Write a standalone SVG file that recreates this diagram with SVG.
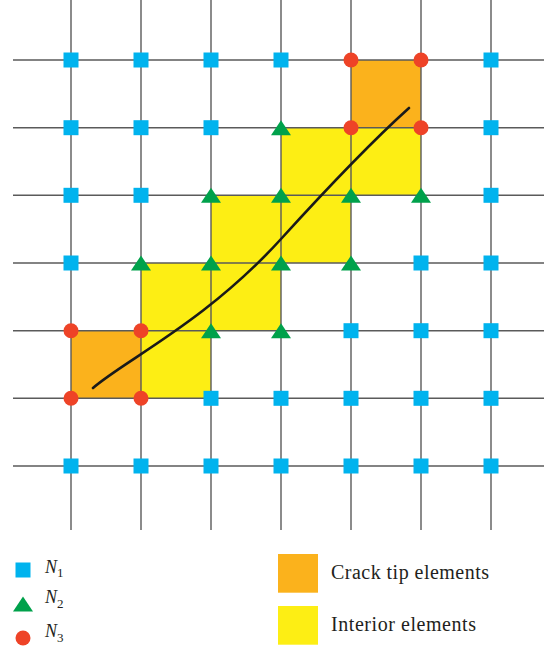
<svg xmlns="http://www.w3.org/2000/svg" width="544" height="652" viewBox="0 0 544 652">
<style>
.grid line{stroke:#5a5a5a;stroke-width:1.4}
.n1{fill:#00b3ee}
.n2{fill:#00a14b}
.n3{fill:#ee4327}
.tip{fill:#fbb21c}
.int{fill:#fdee14}
.crack{fill:none;stroke:#1a1a1a;stroke-width:2.6;stroke-linecap:round}
.lbl{font-family:"Liberation Serif","Times New Roman",serif;fill:#231f20}
.sym{font-family:"Liberation Serif","Times New Roman",serif;font-style:italic;fill:#231f20}
</style>
<defs>
<rect id="sq" x="-7.5" y="-7.5" width="15" height="15" class="n1"/>
<polygon id="tri" points="0,-7.5 10,7.5 -10,7.5" class="n2"/>
<circle id="dot" r="7.5" class="n3"/>
</defs>
<rect width="544" height="652" fill="#ffffff"/>
<g id="elements">
<rect class="tip" x="351" y="60" width="70" height="67.7"/>
<rect class="tip" x="71" y="330.7" width="70" height="67.6"/>
<rect class="int" x="281" y="127.7" width="140" height="67.6"/>
<rect class="int" x="211" y="195.3" width="140" height="67.7"/>
<rect class="int" x="141" y="263" width="140" height="67.7"/>
<rect class="int" x="141" y="330.7" width="70" height="67.6"/>
</g>
<g id="grid" class="grid">
<line x1="71" y1="0" x2="71" y2="530"/>
<line x1="141" y1="0" x2="141" y2="530"/>
<line x1="211" y1="0" x2="211" y2="530"/>
<line x1="281" y1="0" x2="281" y2="530"/>
<line x1="351" y1="0" x2="351" y2="530"/>
<line x1="421" y1="0" x2="421" y2="530"/>
<line x1="491" y1="0" x2="491" y2="530"/>
<line x1="13" y1="60" x2="544" y2="60"/>
<line x1="13" y1="127.7" x2="544" y2="127.7"/>
<line x1="13" y1="195.3" x2="544" y2="195.3"/>
<line x1="13" y1="263" x2="544" y2="263"/>
<line x1="13" y1="330.7" x2="544" y2="330.7"/>
<line x1="13" y1="398.3" x2="544" y2="398.3"/>
<line x1="13" y1="466" x2="544" y2="466"/>
</g>
<g id="crack">
<path class="crack" d="M93,388 C125,360 205,322.6 281,239 C326,189.5 369,144 409,108"/>
</g>
<g id="nodes">
<use href="#sq" x="71" y="60"/><use href="#sq" x="141" y="60"/><use href="#sq" x="211" y="60"/><use href="#sq" x="281" y="60"/><use href="#dot" x="351" y="60"/><use href="#dot" x="421" y="60"/><use href="#sq" x="491" y="60"/>
<use href="#sq" x="71" y="127.7"/><use href="#sq" x="141" y="127.7"/><use href="#sq" x="211" y="127.7"/><use href="#tri" x="281" y="127.7"/><use href="#dot" x="351" y="127.7"/><use href="#dot" x="421" y="127.7"/><use href="#sq" x="491" y="127.7"/>
<use href="#sq" x="71" y="195.3"/><use href="#sq" x="141" y="195.3"/><use href="#tri" x="211" y="195.3"/><use href="#tri" x="281" y="195.3"/><use href="#tri" x="351" y="195.3"/><use href="#tri" x="421" y="195.3"/><use href="#sq" x="491" y="195.3"/>
<use href="#sq" x="71" y="263"/><use href="#tri" x="141" y="263"/><use href="#tri" x="211" y="263"/><use href="#tri" x="281" y="263"/><use href="#tri" x="351" y="263"/><use href="#sq" x="421" y="263"/><use href="#sq" x="491" y="263"/>
<use href="#dot" x="71" y="330.7"/><use href="#dot" x="141" y="330.7"/><use href="#tri" x="211" y="330.7"/><use href="#tri" x="281" y="330.7"/><use href="#sq" x="351" y="330.7"/><use href="#sq" x="421" y="330.7"/><use href="#sq" x="491" y="330.7"/>
<use href="#dot" x="71" y="398.3"/><use href="#dot" x="141" y="398.3"/><use href="#sq" x="211" y="398.3"/><use href="#sq" x="281" y="398.3"/><use href="#sq" x="351" y="398.3"/><use href="#sq" x="421" y="398.3"/><use href="#sq" x="491" y="398.3"/>
<use href="#sq" x="71" y="466"/><use href="#sq" x="141" y="466"/><use href="#sq" x="211" y="466"/><use href="#sq" x="281" y="466"/><use href="#sq" x="351" y="466"/><use href="#sq" x="421" y="466"/><use href="#sq" x="491" y="466"/>
</g>
<g id="legend-n1">
<use href="#sq" x="23" y="570"/>
<text class="sym" x="45" y="572.7" font-size="18">N<tspan font-style="normal" font-size="13" dy="4.7">1</tspan></text>
</g>
<g id="legend-n2">
<use href="#tri" x="23" y="604"/>
<text class="sym" x="45" y="603.3" font-size="18">N<tspan font-style="normal" font-size="13" dy="4.7">2</tspan></text>
</g>
<g id="legend-n3">
<use href="#dot" x="23" y="638"/>
<text class="sym" x="45" y="637.3" font-size="18">N<tspan font-style="normal" font-size="13" dy="4.7">3</tspan></text>
</g>
<g id="legend-tip">
<rect class="tip" x="278" y="554" width="40" height="38.7"/>
<text class="lbl" x="331" y="579" font-size="20" textLength="158" lengthAdjust="spacing">Crack tip elements</text>
</g>
<g id="legend-int">
<rect class="int" x="278" y="606" width="40" height="38.7"/>
<text class="lbl" x="331" y="631" font-size="20" textLength="145" lengthAdjust="spacing">Interior elements</text>
</g>
</svg>
